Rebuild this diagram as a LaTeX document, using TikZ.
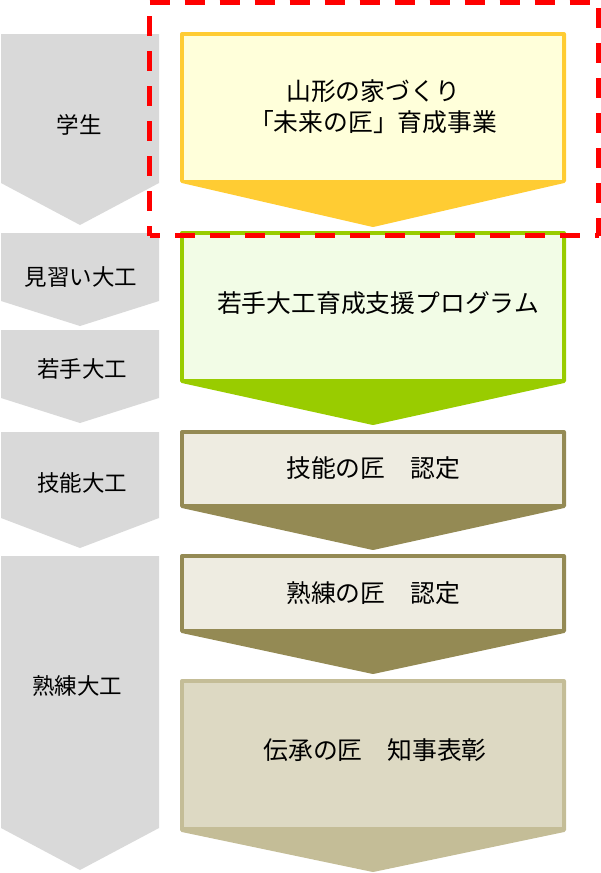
\documentclass[tikz,border=0pt]{standalone}
\usepackage{fontspec}
\setmainfont{Noto Sans CJK JP}
\definecolor{grayc}{HTML}{D9D9D9}
\definecolor{yelB}{HTML}{FFCC33}
\definecolor{yelF}{HTML}{FFFFDA}
\definecolor{grnB}{HTML}{99CC00}
\definecolor{grnF}{HTML}{F2FCE6}
\definecolor{oliB}{HTML}{948A54}
\definecolor{oliF}{HTML}{EEECE1}
\definecolor{tanB}{HTML}{C4BD97}
\definecolor{tanF}{HTML}{DDD9C3}
\definecolor{redD}{HTML}{FF0000}
\newcommand\rstepbox[6]{%
  \filldraw[draw=#5,fill=#5,line width=4pt,line join=round]
    (182,#1+2) -- (564,#1+2) -- (564,#3-2) -- (373,#4-2) -- (182,#3-2) -- cycle;
  \fill[#6] (184,#1+4) rectangle (562,#2);}
\newcommand\lchev[3]{%
  \fill[grayc] (1,#1) -- (159,#1) -- (159,#2) -- (80,#3) -- (1,#2) -- cycle;}
\begin{document}
\begin{tikzpicture}[x=1pt,y=-1pt,
  lefttext/.style={font=\fontsize{22.5}{27}\selectfont,inner sep=0pt,anchor=center},
  righttext/.style={font=\fontsize{24.8}{31}\selectfont,inner sep=0pt,align=center,anchor=center},
  reddash/.style={draw=redD,line width=4.5pt}]
\useasboundingbox (0,0) rectangle (601,873);
% left gray chevrons
\lchev{34}{183}{225}
\lchev{233}{301}{326}
\lchev{330}{398}{423}
\lchev{432}{518}{548}
\lchev{556}{828}{870}
\node[lefttext] (gakusei) at (79,125) {学生};
\node[lefttext] (minarai) at (81,277) {見習い大工};
\node[lefttext] (wakate) at (82,369) {若手大工};
\node[lefttext] (gino) at (82,483) {技能大工};
\node[lefttext] (jukuren) at (77,686) {熟練大工};
% right step boxes
\rstepbox{32}{180}{183}{227}{yelB}{yelF}
\rstepbox{231}{379}{383}{425}{grnB}{grnF}
\rstepbox{430}{504}{508}{550}{oliB}{oliF}
\rstepbox{554}{629}{633}{674}{oliB}{oliF}
\rstepbox{679}{827}{832}{872}{tanB}{tanF}
\node[righttext] (mirai) at (373,107) {山形の家づくり\\「未来の匠」育成事業};
\node[righttext] (shien) at (378,303) {若手大工育成支援プログラム};
\node[righttext] (ginotakumi) at (373,468) {技能の匠　認定};
\node[righttext] (jukurentakumi) at (373,593) {熟練の匠　認定};
\node[righttext] (densho) at (375,750) {伝承の匠　知事表彰};
% red dashed frame
\draw[reddash,dash pattern=on 20pt off 15pt,dash phase=0pt] (149.5,2.5) -- (598.5,2.5);
\draw[reddash,dash pattern=on 20pt off 15pt,dash phase=29.5pt] (598.5,2.5) -- (598.5,235.5);
\draw[reddash,dash pattern=on 20pt off 15pt,dash phase=9.5pt] (149.5,235.5) -- (598.5,235.5);
\draw[reddash,dash pattern=on 20pt off 15pt,dash phase=10pt] (149.5,235.5) -- (149.5,2.5);
\end{tikzpicture}
\end{document}
